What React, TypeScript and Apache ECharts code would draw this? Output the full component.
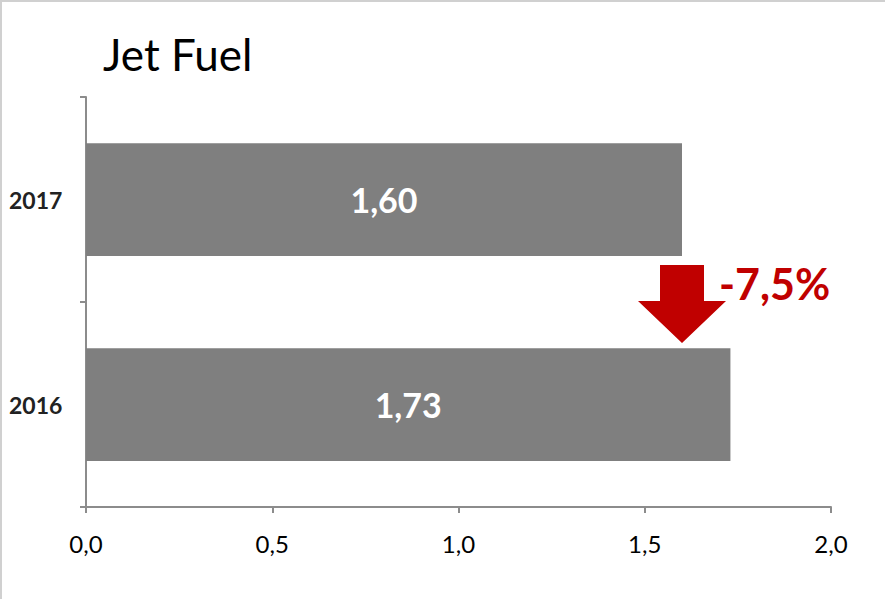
import React, { useEffect, useRef } from "react";
import * as echarts from "echarts";

// Jet fuel volumes by year (bottom to top on the category axis)
const years = ["2016", "2017"];
const volumes = [1.73, 1.6];
const xTicks = { min: 0, max: 2, interval: 0.5 };

const FONT = "Lato, 'Open Sans', sans-serif";
const BAR_COLOR = "#7f7f7f";
const AXIS_COLOR = "#8c8c8c";
const DOWN_RED = "#c00000";

const fmt = (v: number, d: number) => v.toFixed(d).replace(".", ",");

export default function App() {
  const ref = useRef<HTMLDivElement>(null);

  useEffect(() => {
    document.body.style.margin = "0";
    const chart = echarts.init(ref.current!, null, { renderer: "svg" });
    chart.setOption({
      animation: false,
      backgroundColor: "#fff",
      textStyle: { fontFamily: FONT },
      title: {
        text: "Jet Fuel",
        left: 96,
        top: 25,
        textStyle: { fontFamily: FONT, fontSize: 44, fontWeight: "normal", color: "#000" },
      },
      grid: { left: 84, right: 54, top: 95, bottom: 92 },
      xAxis: {
        type: "value",
        min: xTicks.min,
        max: xTicks.max,
        interval: xTicks.interval,
        axisLine: { show: true, lineStyle: { color: AXIS_COLOR, width: 2 } },
        axisTick: { show: true, length: 6, lineStyle: { color: AXIS_COLOR, width: 2 } },
        splitLine: { show: false },
        axisLabel: {
          margin: 24,
          fontSize: 24,
          color: "#000",
          fontFamily: FONT,
          formatter: (v: number) => fmt(v, 1),
        },
      },
      yAxis: {
        type: "category",
        data: years,
        axisLine: { show: true, lineStyle: { color: AXIS_COLOR, width: 2 } },
        axisTick: { show: true, length: 6, lineStyle: { color: AXIS_COLOR, width: 2 } },
        axisLabel: {
          align: "left",
          margin: 77,
          fontSize: 23,
          fontWeight: "bold",
          color: "#222",
          fontFamily: FONT,
        },
      },
      series: [
        {
          type: "bar",
          data: volumes,
          barCategoryGap: "45%",
          itemStyle: { color: BAR_COLOR },
          label: {
            show: true,
            position: "inside",
            color: "#fff",
            fontSize: 34,
            fontWeight: "bold",
            fontFamily: FONT,
            formatter: (p: any) => fmt(p.value, 2),
          },
        },
      ],
    });

    // Down arrow with the year-on-year change, tip at the end of the 2017 bar
    const change = (volumes[1] / volumes[0] - 1) * 100;
    const tipX = chart.convertToPixel({ gridIndex: 0 }, [volumes[1], 0])[0];
    const tipY = 341;
    const headY = 299;
    const shaftTop = 263;
    chart.setOption({
      graphic: [
        {
          type: "polygon",
          shape: {
            points: [
              [tipX - 22, shaftTop],
              [tipX + 22, shaftTop],
              [tipX + 22, headY],
              [tipX + 44, headY],
              [tipX, tipY],
              [tipX - 44, headY],
              [tipX - 22, headY],
            ],
          },
          style: { fill: DOWN_RED },
        },
        {
          type: "text",
          x: tipX + 37,
          y: 281,
          style: {
            text: `${fmt(change, 1)}%`,
            fill: DOWN_RED,
            fontSize: 43,
            fontWeight: "bold",
            fontFamily: FONT,
            verticalAlign: "middle",
          },
        },
      ],
    });

    return () => chart.dispose();
  }, []);

  return (
    <div
      style={{
        width: 885,
        height: 599,
        boxSizing: "border-box",
        border: "2px solid #d0d0d0",
        borderRight: "none",
        borderBottom: "none",
        position: "relative",
      }}
    >
      <div ref={ref} style={{ width: 883, height: 597 }} />
    </div>
  );
}
